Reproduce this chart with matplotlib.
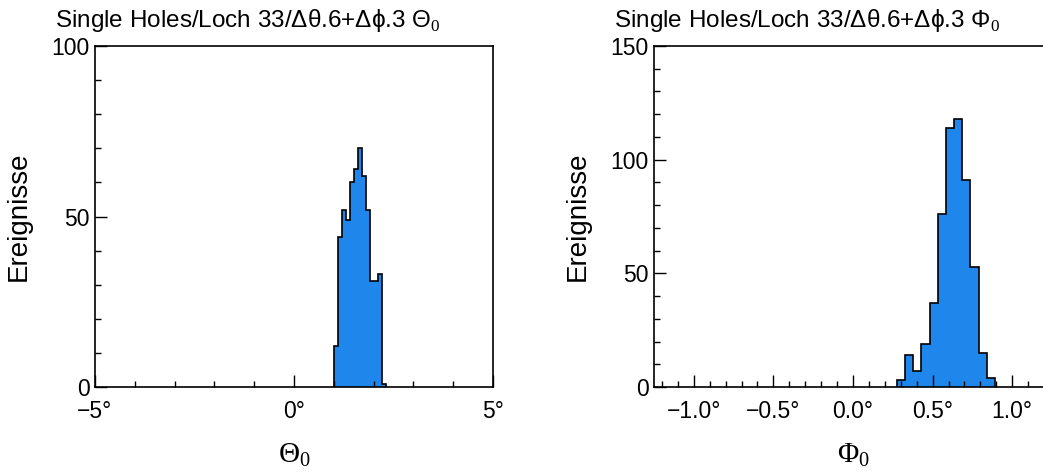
import matplotlib
matplotlib.use("Agg")
import matplotlib.pyplot as plt
from matplotlib.ticker import FixedLocator, MultipleLocator

plt.rcParams['font.family'] = ['Liberation Sans', 'DejaVu Sans']
plt.rcParams['mathtext.fontset'] = 'custom'
plt.rcParams['mathtext.rm'] = 'Liberation Serif'
plt.rcParams['mathtext.sf'] = 'Liberation Sans'

# Theta_0 histogram (bins of 0.1 deg)
theta_edges = [1.0, 1.1, 1.2, 1.3, 1.4, 1.5, 1.6, 1.7, 1.8, 1.9, 2.0, 2.1, 2.2, 2.3]
theta_counts = [12, 44, 52, 49, 60, 64, 70, 62, 52, 31, 31, 33, 1]

# Phi_0 histogram (bins of ~0.05 deg)
phi_edges = [0.276, 0.327, 0.378, 0.429, 0.481, 0.532, 0.583, 0.635,
             0.686, 0.737, 0.789, 0.840, 0.891]
phi_counts = [3, 14, 7, 19, 37, 76, 114, 118, 91, 53, 15, 4]

theta_ticks = [-5, 0, 5]
theta_ticklabels = ['\u22125\u00b0', '0\u00b0', '5\u00b0']
phi_ticks = [-1.0, -0.5, 0.0, 0.5, 1.0]
phi_ticklabels = ['\u22121.0\u00b0', '\u22120.5\u00b0', '0.0\u00b0', '0.5\u00b0', '1.0\u00b0']

blue = '#1f86ec'

fig = plt.figure(figsize=(10.43, 4.76), dpi=100)
ax1 = fig.add_axes([95/1043, 1-387/476, 398/1043, 341/476])
ax2 = fig.add_axes([654/1043, 1-387/476, 398/1043, 341/476])


def style(ax, xlim, ylim, xt, xtl, xminor, ymajor, yminor, xlabel):
    ax.set_xlim(*xlim)
    ax.set_ylim(*ylim)
    ax.xaxis.set_major_locator(FixedLocator(xt))
    ax.set_xticklabels(xtl)
    ax.xaxis.set_minor_locator(MultipleLocator(xminor))
    ax.yaxis.set_major_locator(MultipleLocator(ymajor))
    ax.yaxis.set_minor_locator(MultipleLocator(yminor))
    ax.tick_params(which='both', direction='in', top=False, right=False,
                   labelsize=16.5, width=1.0)
    ax.tick_params(which='major', length=8.5)
    ax.tick_params(which='minor', length=4.2)
    ax.tick_params(axis='x', pad=9)
    ax.tick_params(axis='y', pad=4)
    for s in ax.spines.values():
        s.set_linewidth(1.2)
    ax.set_ylabel('Ereignisse', fontsize=20, labelpad=14)
    ax.set_xlabel(xlabel, fontsize=21, labelpad=13)


ax1.stairs(theta_counts, theta_edges, fill=True, color=blue)
ax1.stairs(theta_counts, theta_edges, color='black', linewidth=1.2)
style(ax1, (-5, 5), (0, 100), theta_ticks, theta_ticklabels, 1, 50, 10,
      r'$\mathrm{\Theta}_0$')

ax2.stairs(phi_counts, phi_edges, fill=True, color=blue)
ax2.stairs(phi_counts, phi_edges, color='black', linewidth=1.2)
style(ax2, (-1.25, 1.25), (0, 150), phi_ticks, phi_ticklabels, 0.1, 50, 10,
      r'$\mathrm{\Phi}_0$')

fig.text(55/1043, 1-27/476,
         'Single Holes/Loch 33/\u0394\u03b8.6+\u0394\u03d5.3 $\\mathsf{\\Theta}_0$',
         fontsize=17.5)
fig.text(614/1043, 1-27/476,
         'Single Holes/Loch 33/\u0394\u03b8.6+\u0394\u03d5.3 $\\mathsf{\\Phi}_0$',
         fontsize=17.5)

fig.savefig('out.png', dpi=100)
